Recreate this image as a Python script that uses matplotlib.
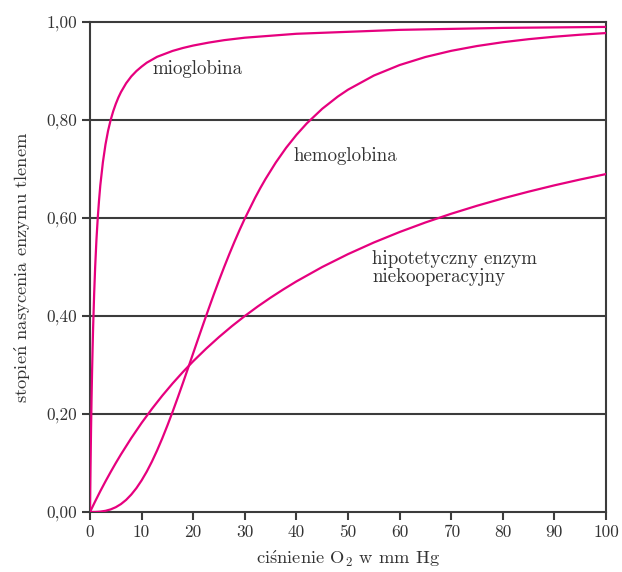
import matplotlib
matplotlib.use("Agg")
import matplotlib.pyplot as plt

# ciśnienie O2 (mm Hg) i stopień nasycenia
mio_x = [0, 0.05, 0.1, 0.2, 0.3, 0.4, 0.5, 0.6, 0.8, 1, 1.25, 1.5, 1.75, 2,
         2.5, 3, 3.5, 4, 4.5, 5, 5.5, 6, 7, 8, 9, 10, 11, 12, 13, 14, 16, 18,
         20, 23, 26, 30, 35, 40, 50, 60, 70, 80, 90, 100]
mio_y = [0, 0.048, 0.091, 0.167, 0.231, 0.286, 0.333, 0.375, 0.444, 0.5,
         0.556, 0.6, 0.636, 0.667, 0.714, 0.75, 0.778, 0.8, 0.818, 0.833,
         0.846, 0.857, 0.875, 0.889, 0.9, 0.909, 0.917, 0.923, 0.929, 0.933,
         0.941, 0.947, 0.952, 0.958, 0.963, 0.968, 0.972, 0.976, 0.980,
         0.984, 0.986, 0.988, 0.989, 0.990]

hem_x = [0, 1, 2, 3, 4, 5, 6, 7, 8, 9, 10, 11, 12, 13, 14, 15, 16, 17, 18,
         19, 20, 21, 22, 23, 24, 25, 26, 27, 28, 29, 30, 32, 33, 34, 36, 38,
         40, 42, 45, 48, 50, 55, 60, 65, 70, 75, 80, 85, 90, 95, 100]
hem_y = [0, 0.0001, 0.0008, 0.0024, 0.0053, 0.0098, 0.0162, 0.0247, 0.0356,
         0.0488, 0.0645, 0.0825, 0.1029, 0.1256, 0.1502, 0.1766, 0.2043,
         0.2333, 0.2631, 0.2935, 0.3242, 0.3548, 0.3851, 0.4150, 0.4443,
         0.4726, 0.5, 0.5264, 0.5517, 0.5759, 0.5989, 0.6414, 0.6610, 0.6794,
         0.7132, 0.7432, 0.7696, 0.7930, 0.8229, 0.8477, 0.8619, 0.8907,
         0.9122, 0.9286, 0.9412, 0.9510, 0.9588, 0.9650, 0.9700, 0.9741,
         0.9775]

hip_x = [0, 1, 2, 3, 4, 5, 6, 8, 10, 12, 14, 16, 18, 20, 22.5, 25, 27.5, 30,
         32.5, 35, 37.5, 40, 45, 50, 55, 60, 65, 70, 75, 80, 85, 90, 95, 100]
hip_y = [0, 0.0217, 0.0426, 0.0625, 0.0816, 0.1, 0.1176, 0.1509, 0.1818,
         0.2105, 0.2373, 0.2623, 0.2857, 0.3077, 0.3333, 0.3571, 0.3793, 0.4,
         0.4194, 0.4375, 0.4545, 0.4706, 0.5, 0.5263, 0.55, 0.5714, 0.5909,
         0.6087, 0.625, 0.64, 0.6538, 0.6667, 0.6786, 0.6897]

x_ticks = [0, 10, 20, 30, 40, 50, 60, 70, 80, 90, 100]
y_ticks = [0, 0.2, 0.4, 0.6, 0.8, 1.0]
y_labels = ["0,00", "0,20", "0,40", "0,60", "0,80", "1,00"]

plt.rcParams["font.family"] = ["cmr10", "DejaVu Serif"]
plt.rcParams["mathtext.fontset"] = "cm"
plt.rcParams["axes.formatter.use_mathtext"] = True

line_col = "#E6007E"
axis_col = "#3c3c3c"
text_col = "#333333"

fig = plt.figure(figsize=(6.22, 5.72), dpi=100)
ax = fig.add_axes([0.1447, 0.1049, 0.8296, 0.8566])

for yv in y_ticks[1:-1]:
    ax.axhline(yv, color=axis_col, lw=1.5, zorder=1)

ax.plot(mio_x, mio_y, color=line_col, lw=1.6, zorder=3)
ax.plot(hem_x, hem_y, color=line_col, lw=1.6, zorder=3)
ax.plot(hip_x, hip_y, color=line_col, lw=1.6, zorder=3)

ax.text(12.2, 0.904, "mioglobina", fontsize=13.6, va="center", color=text_col)
ax.text(39.5, 0.727, "hemoglobina", fontsize=13.6, va="center", color=text_col)
ax.text(54.7, 0.498, "hipotetyczny enzym\nniekooperacyjny", fontsize=13.6,
        va="center", color=text_col, linespacing=1.0)

ax.set_xlim(0, 100)
ax.set_ylim(0, 1)
ax.set_xticks(x_ticks)
ax.set_xticklabels([str(v) for v in x_ticks])
ax.set_yticks(y_ticks)
ax.set_yticklabels(y_labels)

for s in ax.spines.values():
    s.set_color(axis_col)
    s.set_linewidth(1.5)
ax.tick_params(direction="out", length=6, width=1.5, color=axis_col,
               labelsize=12.5, labelcolor=text_col, pad=3)

ax.set_xlabel(r"ci$\mathrm{\acute{s}}$nienie O$_2$ w mm Hg", fontsize=13.3,
              color=text_col, labelpad=6)
ax.set_ylabel(r"stopie$\mathrm{\acute{n}}$ nasycenia enzymu tlenem",
              fontsize=13.3, color=text_col, labelpad=10)

fig.savefig("out.png", dpi=100)
